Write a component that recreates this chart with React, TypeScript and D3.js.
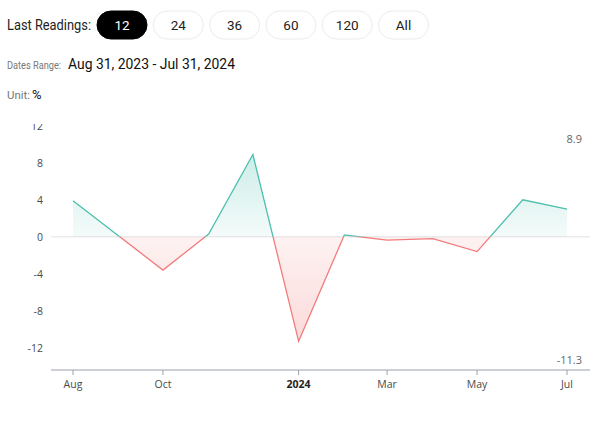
import React from "react";
import * as d3 from "d3";

const months = ["2023-08", "2023-09", "2023-10", "2023-11", "2023-12", "2024-01", "2024-02", "2024-03", "2024-04", "2024-05", "2024-06", "2024-07"];
const values = [3.9, 0.1, -3.6, 0.3, 8.9, -11.3, 0.2, -0.35, -0.2, -1.6, 4.0, 3.0];
const yTicks = [-12, -8, -4, 0, 4, 8, 12];
const xTickMonths = ["2023-08", "2023-10", "2024-01", "2024-03", "2024-05", "2024-07"];
const buttons = ["12", "24", "36", "60", "120", "All"];

const W = 600, H = 423;
const parse = d3.timeParse("%Y-%m");
const data = months.map((m, i) => ({ date: parse(m) as Date, value: values[i] }));

const GREEN = "#4cbfae";
const RED = "#f37b7b";
const HEAD_FONT = "Roboto, 'Open Sans', sans-serif";
const AX_FONT = "'Open Sans', 'Noto Sans', sans-serif";

export default function App() {
  const x = d3.scaleTime().domain([data[0].date, data[data.length - 1].date]).range([73, 567]);
  const y = d3.scaleLinear().domain([-14.4, 12.2]).range([370, 124]);
  const y0 = y(0);
  const area = d3.area<{ date: Date; value: number }>().x(d => x(d.date)).y0(y0).y1(d => y(d.value));
  const line = d3.line<{ date: Date; value: number }>().x(d => x(d.date)).y(d => y(d.value));
  const maxV = d3.max(values) as number;
  const minV = d3.min(values) as number;
  const fmtMonth = d3.timeFormat("%b");

  return (
    <svg width={W} height={H} style={{ position: "absolute", left: 0, top: 0, background: "#fff" }}>
      <defs>
        <clipPath id="above"><rect x={0} y={0} width={W} height={y0} /></clipPath>
        <clipPath id="below"><rect x={0} y={y0} width={W} height={H - y0} /></clipPath>
        <clipPath id="plot"><rect x={0} y={124} width={W} height={260} /></clipPath>
        <linearGradient id="gUp" gradientUnits="userSpaceOnUse" x1={0} y1={y(maxV)} x2={0} y2={y0}>
          <stop offset="0%" stopColor={GREEN} stopOpacity={0.28} />
          <stop offset="100%" stopColor={GREEN} stopOpacity={0.06} />
        </linearGradient>
        <linearGradient id="gDown" gradientUnits="userSpaceOnUse" x1={0} y1={y0} x2={0} y2={y(minV)}>
          <stop offset="0%" stopColor={RED} stopOpacity={0.1} />
          <stop offset="100%" stopColor={RED} stopOpacity={0.28} />
        </linearGradient>
      </defs>

      {/* header */}
      <text x={7} y={30} fontFamily={HEAD_FONT} fontSize={14.5} fill="#222" textLength={84} lengthAdjust="spacingAndGlyphs">Last Readings:</text>
      {buttons.map((b, i) => {
        const bx = 97 + i * 56.3;
        const active = i === 0;
        return (
          <g key={b}>
            <rect x={bx} y={11} width={50} height={28} rx={14} fill={active ? "#000" : "#fff"} stroke={active ? "#000" : "#ececec"} strokeWidth={1} />
            <text x={bx + 25} y={29.5} textAnchor="middle" fontFamily={HEAD_FONT} fontSize={13.5} fill={active ? "#fff" : "#222"}>{b}</text>
          </g>
        );
      })}
      <text x={7} y={69} fontFamily={HEAD_FONT} fontSize={10.3} fill="#777" textLength={54} lengthAdjust="spacingAndGlyphs">Dates Range:</text>
      <text x={68} y={69} fontFamily={HEAD_FONT} fontSize={14} fill="#111" textLength={167} lengthAdjust="spacingAndGlyphs">Aug 31, 2023 - Jul 31, 2024</text>
      <text x={7} y={99} fontFamily={HEAD_FONT} fontSize={10.5} fill="#777" textLength={23} lengthAdjust="spacingAndGlyphs">Unit:</text>
      <text x={32} y={99} fontFamily={HEAD_FONT} fontSize={13} fill="#111">%</text>

      <g clipPath="url(#plot)">
        {yTicks.map(t => (
          <text key={t} x={43} y={y(t) + 4} textAnchor="end" fontFamily={AX_FONT} fontSize={10.5} fill="#4a4a4a">{t}</text>
        ))}
      </g>

      {/* zero line */}
      <line x1={51} x2={590} y1={y0} y2={y0} stroke="#e2e2e2" strokeWidth={1} />

      {/* areas */}
      <path d={area(data) as string} fill="url(#gUp)" clipPath="url(#above)" />
      <path d={area(data) as string} fill="url(#gDown)" clipPath="url(#below)" />
      <path d={line(data) as string} fill="none" stroke={GREEN} strokeWidth={1.3} clipPath="url(#above)" />
      <path d={line(data) as string} fill="none" stroke={RED} strokeWidth={1.3} clipPath="url(#below)" />

      {/* x axis */}
      <line x1={51} x2={590} y1={370} y2={370} stroke="#9aa0ae" strokeWidth={1} />
      {xTickMonths.map(m => {
        const d = parse(m) as Date;
        const isYear = d.getMonth() === 0;
        return (
          <g key={m}>
            <line x1={x(d)} x2={x(d)} y1={370} y2={375} stroke="#9aa0ae" />
            <text x={x(d)} y={388} textAnchor="middle" fontFamily={AX_FONT} fontSize={10.5}
              fontWeight={isYear ? 700 : 400} fill={isYear ? "#222" : "#4a4a4a"}>
              {isYear ? d3.timeFormat("%Y")(d) : fmtMonth(d)}
            </text>
          </g>
        );
      })}

      {/* max/min labels */}
      <text x={582} y={143} textAnchor="end" fontFamily={AX_FONT} fontSize={11} fill="#666">{maxV}</text>
      <text x={582} y={364} textAnchor="end" fontFamily={AX_FONT} fontSize={11} fill="#666">{minV}</text>
    </svg>
  );
}
